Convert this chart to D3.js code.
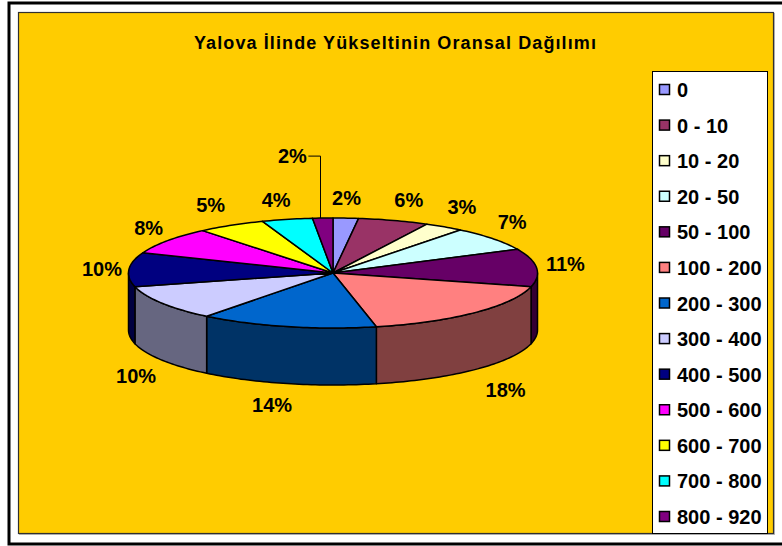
<!DOCTYPE html>
<html>
<head>
<meta charset="utf-8">
<script src="https://cdn.jsdelivr.net/npm/d3@7"></script>
<style>
  html, body { margin: 0; padding: 0; background: #fff; }
  svg { display: block; }
  text { font-family: "Liberation Sans", Arial, sans-serif; font-weight: bold; fill: #000; }
</style>
</head>
<body>
<svg width="782" height="546"></svg>
<script>
var titleText = "Yalova İlinde Yükseltinin Oransal Dağılımı";

// height bands, in the order they run round the pie
var categories = ["0", "0 - 10", "10 - 20", "20 - 50", "50 - 100", "100 - 200", "200 - 300",
                  "300 - 400", "400 - 500", "500 - 600", "600 - 700", "700 - 800", "800 - 920"];
var shares = [2, 5.6, 3.1, 7.2, 11.1, 17.6, 14, 10.4, 10, 8, 5.4, 4, 1.6];
var topColors = ["#9999FF", "#993366", "#FFFFCC", "#CCFFFF", "#660066", "#FF8080", "#0066CC",
                 "#CCCCFF", "#000080", "#FF00FF", "#FFFF00", "#00FFFF", "#800080"];

var svg = d3.select("svg");

// pie geometry
var cx = 333, cy = 273, rx = 204.5, ry = 55, depth = 57;

// hand nudges for the labels, excel doesnt place them quite evenly
var labelNudge = [[-1, 1], [7, 0], [3, -2], [-2, -4], [2, -2], [12, 1], [-9, -3], [-3, 0],
                  [0, 1], [3, 0], [-7, -2], [-5, 1], [-9, 2]];

// page frame: left, top and bottom lines only, right side is cut off
svg.append("path")
  .attr("d", "M782,3H9V544H782")
  .attr("fill", "none").attr("stroke", "#000").attr("stroke-width", 3);

// chart area with its thin shadow
svg.append("rect").attr("x", 19.5).attr("y", 13.5).attr("width", 755).attr("height", 521)
  .attr("fill", "none").attr("stroke", "#bbb").attr("stroke-width", 1);
svg.append("rect").attr("x", 18.5).attr("y", 12.5).attr("width", 755).attr("height", 521)
  .attr("fill", "#FFCC00").attr("stroke", "#303030").attr("stroke-width", 1.2);

svg.append("text")
  .attr("x", 395.5).attr("y", 49)
  .attr("text-anchor", "middle")
  .attr("font-size", 18)
  .attr("letter-spacing", 1.1)
  .text(titleText);

var pie = d3.pie().value(function(d) { return d; }).sort(null);
var arcs = pie(shares);

// point on the rim for a pie angle (0 = top, clockwise)
function rim(a, drop) {
  return [cx + rx * Math.sin(a), cy - ry * Math.cos(a) + (drop || 0)];
}
var line = d3.line();

function arcPoints(a0, a1, drop) {
  var n = Math.max(2, Math.ceil((a1 - a0) / 0.02));
  return d3.range(n + 1).map(function(i) { return rim(a0 + (a1 - a0) * i / n, drop); });
}

// side wall: only the front half of the rim shows
var sides = arcs.filter(function(d) {
  return d.endAngle > Math.PI / 2 && d.startAngle < Math.PI * 1.5;
});
svg.append("g").selectAll("path")
  .data(sides)
  .enter()
  .append("path")
  .attr("d", function(d) {
    var a0 = Math.max(d.startAngle, Math.PI / 2);
    var a1 = Math.min(d.endAngle, Math.PI * 1.5);
    return line(arcPoints(a0, a1, 0).concat(arcPoints(a0, a1, depth).reverse())) + "Z";
  })
  .attr("fill", function(d) {
    var c = d3.rgb(topColors[d.index]);
    return d3.rgb(c.r / 2, c.g / 2, c.b / 2).formatHex();
  })
  .attr("stroke", "#000")
  .attr("stroke-width", 1.5)
  .attr("stroke-linejoin", "round");

// top of the pie
svg.append("g").selectAll("path")
  .data(arcs)
  .enter()
  .append("path")
  .attr("d", function(d) {
    return line([[cx, cy]].concat(arcPoints(d.startAngle, d.endAngle, 0))) + "Z";
  })
  .attr("fill", function(d) { return topColors[d.index]; })
  .attr("stroke", "#000")
  .attr("stroke-width", 1.5)
  .attr("stroke-linejoin", "round");

// percentage labels round the rim
function labelPos(d) {
  var mid = (d.startAngle + d.endAngle) / 2;
  var x = cx + (rx + 27) * Math.sin(mid);
  var y = cy - (ry + 21) * Math.cos(mid);
  if (Math.cos(mid) < 0) y += depth + 4;
  if (d.index === arcs.length - 1) { x -= 20; y -= 43; }
  return [x + labelNudge[d.index][0], y + labelNudge[d.index][1]];
}

svg.append("g").selectAll("text")
  .data(arcs)
  .enter()
  .append("text")
  .attr("x", function(d) { return labelPos(d)[0]; })
  .attr("y", function(d) { return labelPos(d)[1]; })
  .attr("text-anchor", "middle")
  .attr("dominant-baseline", "central")
  .attr("font-size", 20)
  .text(function(d) { return Math.round(d.data) + "%"; });

// leader for the last slice
var lastArc = arcs[arcs.length - 1];
var lastMid = (lastArc.startAngle + lastArc.endAngle) / 2;
var lastRim = rim(lastMid, 0);
var lastLabel = labelPos(lastArc);
var leaderX = Math.round(lastRim[0]) - 2.5;
svg.append("path")
  .attr("d", line([[lastLabel[0] + 16, lastLabel[1]], [leaderX, lastLabel[1]], [leaderX, lastRim[1]]]))
  .attr("fill", "none")
  .attr("stroke", "#000")
  .attr("stroke-width", 1);

// legend
var legendY = d3.scalePoint().domain(categories).range([90, 517]);
var legend = svg.append("g");
legend.append("rect")
  .attr("x", 652.5).attr("y", 71.5).attr("width", 115).attr("height", 462)
  .attr("fill", "#fff").attr("stroke", "#000").attr("stroke-width", 1);

var rows = legend.selectAll("g")
  .data(categories)
  .enter()
  .append("g")
  .attr("transform", function(d) { return "translate(0," + legendY(d) + ")"; });
rows.append("rect")
  .attr("x", 659.5).attr("y", -5.5).attr("width", 10).attr("height", 10)
  .attr("fill", function(d, i) { return topColors[i]; })
  .attr("stroke", "#000").attr("stroke-width", 1.5);
rows.append("text")
  .attr("x", 677)
  .attr("dominant-baseline", "central")
  .attr("font-size", 20)
  .text(function(d) { return d; });
</script>
</body>
</html>
